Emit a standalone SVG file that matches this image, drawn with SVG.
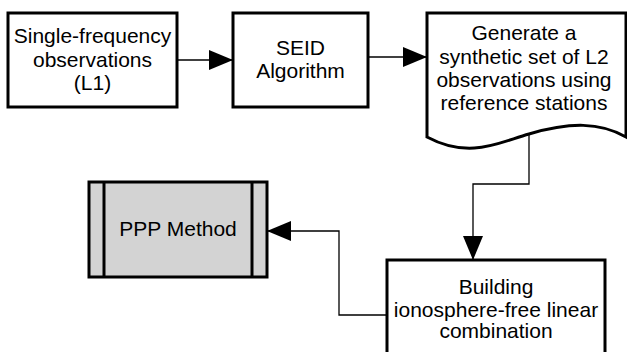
<svg xmlns="http://www.w3.org/2000/svg" width="627" height="352" viewBox="0 0 627 352">
<style>
.box{fill:#fff;stroke:#000;stroke-width:3}
.t{font-family:"Liberation Sans",Arial,sans-serif;font-size:21px;fill:#000;text-anchor:middle}
.c{fill:none;stroke:#000;stroke-width:1.3}
</style>
<defs>
<marker id="ah" markerWidth="24" markerHeight="20" refX="24" refY="10" orient="auto" markerUnits="userSpaceOnUse">
<path d="M0,0 L24,10 L0,20 Z" fill="#000"/>
</marker>
</defs>
<g id="connectors">
<path class="c" d="M177,60 H233" marker-end="url(#ah)"/>
<path class="c" d="M368,57 H427" marker-end="url(#ah)"/>
<path class="c" d="M529,134 V184 H473 V260" marker-end="url(#ah)"/>
<path class="c" d="M387,315 H339 V231 H267" marker-end="url(#ah)"/>
</g>
<g id="n1">
<rect class="box" x="8" y="13" width="169" height="94"/>
<text class="t" x="92.5" y="43">Single-frequency</text>
<text class="t" x="92.5" y="67">observations</text>
<text class="t" x="92.5" y="90">(L1)</text>
</g>
<g id="n2">
<rect class="box" x="233" y="13" width="135" height="94"/>
<text class="t" x="300.5" y="55">SEID</text>
<text class="t" x="300.5" y="78">Algorithm</text>
</g>
<g id="n3">
<path class="box" d="M427,13 H626 V137 C600,122 570,122 529,134 C500,142 470,160 427,137 Z"/>
<text class="t" x="524" y="40">Generate a</text>
<text class="t" x="524" y="64">synthetic set of L2</text>
<text class="t" x="524" y="87">observations using</text>
<text class="t" x="524" y="110">reference stations</text>
</g>
<g id="n4">
<rect class="box" x="387" y="260" width="218" height="96"/>
<text class="t" x="496" y="294">Building</text>
<text class="t" x="496" y="317">ionosphere-free linear</text>
<text class="t" x="496" y="338">combination</text>
</g>
<g id="n5">
<rect class="box" x="89" y="182" width="178" height="95" style="fill:#d3d3d3"/>
<line x1="104" y1="182" x2="104" y2="277" stroke="#000" stroke-width="3"/>
<line x1="252" y1="182" x2="252" y2="277" stroke="#000" stroke-width="3"/>
<text class="t" x="178" y="236">PPP Method</text>
</g>
</svg>
